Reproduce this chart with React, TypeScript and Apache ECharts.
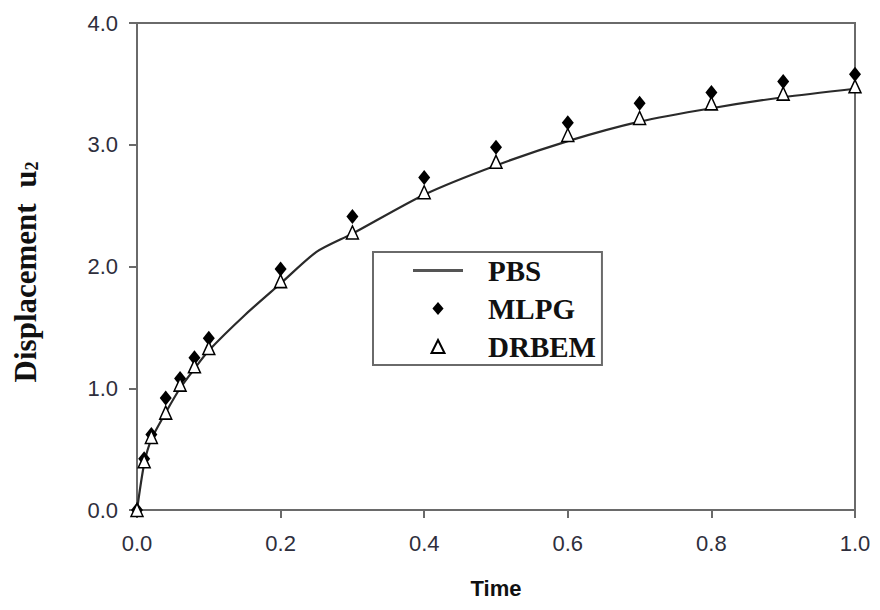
import React, { useEffect, useRef } from "react";
import * as echarts from "echarts";

const pbsTime = [0, 0.01, 0.02, 0.04, 0.06, 0.08, 0.1, 0.15, 0.2, 0.25, 0.3, 0.4, 0.5, 0.6, 0.7, 0.8, 0.9, 1.0];
const pbsValues = [0, 0.38, 0.58, 0.8, 1.0, 1.16, 1.31, 1.6, 1.86, 2.12, 2.27, 2.59, 2.83, 3.03, 3.19, 3.3, 3.39, 3.46];

const pointTime = [0, 0.01, 0.02, 0.04, 0.06, 0.08, 0.1, 0.2, 0.3, 0.4, 0.5, 0.6, 0.7, 0.8, 0.9, 1.0];
const mlpgValues = [0, 0.42, 0.62, 0.92, 1.08, 1.25, 1.41, 1.98, 2.41, 2.73, 2.98, 3.18, 3.34, 3.43, 3.52, 3.58];
const drbemValues = [0, 0.4, 0.6, 0.8, 1.03, 1.18, 1.33, 1.88, 2.28, 2.61, 2.86, 3.08, 3.22, 3.34, 3.42, 3.48];

const xTicks = [0, 0.2, 0.4, 0.6, 0.8, 1.0];
const yTicks = [0, 1, 2, 3, 4];

const seriesNames = ["PBS", "MLPG", "DRBEM"];

export default function App() {
  const ref = useRef<HTMLDivElement>(null);
  useEffect(() => {
    if (!ref.current) return;
    const chart = echarts.init(ref.current, null, { renderer: "svg" });
    const tickColor = "#2e2e3c";
    const axisColor = "#6a6a6a";
    const option: any = {
      animation: false,
      backgroundColor: "#ffffff",
      grid: {
        left: 137,
        right: 25,
        top: 23,
        bottom: 100,
        show: true,
        borderColor: axisColor,
        borderWidth: 2,
        backgroundColor: "transparent",
      },
      xAxis: {
        type: "value",
        min: xTicks[0],
        max: xTicks[xTicks.length - 1],
        interval: 0.2,
        name: "Time",
        nameLocation: "middle",
        nameGap: 67,
        nameTextStyle: {
          fontFamily: "Liberation Sans",
          fontWeight: "bold",
          fontSize: 22,
          color: "#111",
        },
        axisLine: { show: true, lineStyle: { color: axisColor, width: 2 } },
        axisTick: { show: true, inside: false, length: 8, lineStyle: { color: axisColor, width: 2 } },
        splitLine: { show: false },
        axisLabel: {
          margin: 22,
          fontFamily: "Liberation Sans",
          fontSize: 22,
          color: tickColor,
          formatter: (v: number) => v.toFixed(1),
        },
      },
      yAxis: {
        type: "value",
        min: yTicks[0],
        max: yTicks[yTicks.length - 1],
        interval: 1,
        axisLine: { show: true, lineStyle: { color: axisColor, width: 2 } },
        axisTick: { show: true, inside: false, length: 8, lineStyle: { color: axisColor, width: 2 } },
        splitLine: { show: false },
        axisLabel: {
          margin: 19,
          fontFamily: "Liberation Sans",
          fontSize: 22,
          color: tickColor,
          formatter: (v: number) => v.toFixed(1),
        },
      },
      legend: {
        orient: "vertical",
        left: 373,
        top: 252,
        data: [
          { name: seriesNames[0], icon: "path://M0,0 L50,0 L50,3 L0,3 Z", itemStyle: { color: "#555555" } },
          { name: seriesNames[1], icon: "path://M6,0 L12,7 L6,14 L0,7 Z" },
          { name: seriesNames[2], icon: "path://M5,1 L10,11 L0,11 Z" },
        ],
        symbolKeepAspect: true,
        backgroundColor: "#ffffff",
        borderColor: axisColor,
        borderWidth: 2,
        borderRadius: 0,
        padding: [4, 6, 4, 40],
        itemWidth: 50,
        itemHeight: 13,
        itemGap: 9,
        textStyle: {
          fontFamily: "Liberation Serif",
          fontWeight: "bold",
          fontSize: 29,
          color: "#111",
          lineHeight: 28,
          padding: [0, 0, 0, 20],
        },
      },
      graphic: [
        {
          type: "text",
          x: 25,
          y: 272,
          rotation: Math.PI / 2,
          style: {
            text: "{a|Displacement  u}{b|2}",
            align: "center",
            verticalAlign: "middle",
            rich: {
              a: {
                fontFamily: "Liberation Serif",
                fontWeight: "bold",
                fontSize: 31,
                lineHeight: 32,
                fill: "#111",
              },
              b: {
                fontFamily: "Liberation Serif",
                fontWeight: "bold",
                fontSize: 18,
                lineHeight: 12,
                verticalAlign: "bottom",
                fill: "#111",
              },
            },
          },
        },
      ],
      series: [
        {
          name: "PBS",
          type: "line",
          data: pbsTime.map((t, i) => [t, pbsValues[i]]),
          showSymbol: false,
          symbol: "none",
          smooth: 0.25,
          lineStyle: { color: "#2a2a2a", width: 2.2 },
          itemStyle: { color: "#555555" },
          z: 2,
        },
        {
          name: "MLPG",
          type: "scatter",
          data: pointTime.map((t, i) => [t, mlpgValues[i]]),
          symbol: "diamond",
          symbolSize: [12, 15],
          itemStyle: { color: "#000000", opacity: 1 },
          z: 3,
        },
        {
          name: "DRBEM",
          type: "scatter",
          data: pointTime.map((t, i) => [t, drbemValues[i]]),
          symbol: "triangle",
          symbolSize: [12, 13],
          itemStyle: { color: "#ffffff", borderColor: "#000000", borderWidth: 1.5, opacity: 1 },
          z: 4,
        },
      ],
    };
    chart.setOption(option);
    return () => chart.dispose();
  }, []);
  return (
    <div
      ref={ref}
      style={{ position: "absolute", left: 0, top: 0, width: 880, height: 610, background: "#fff" }}
    />
  );
}
